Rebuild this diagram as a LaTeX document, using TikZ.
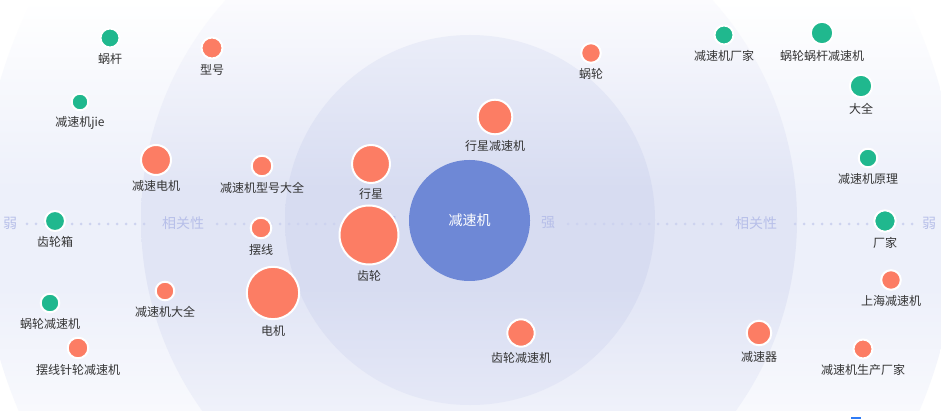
\documentclass[tikz,border=0pt]{standalone}
\usepackage{fontspec}
\setmainfont{Noto Sans CJK SC}
\definecolor{orangeB}{HTML}{FC7D64}
\definecolor{greenB}{HTML}{20B88E}
\definecolor{centerblue}{HTML}{6E88D6}
\definecolor{lbltext}{HTML}{333333}
\definecolor{axistext}{HTML}{B7BFE9}
\definecolor{dotc}{HTML}{CDD3EF}
\definecolor{ringA}{HTML}{EDF0FA}
\definecolor{ringAb}{HTML}{F8F9FD}
\definecolor{ringBt}{HTML}{FBFBFE}
\definecolor{ringB}{HTML}{E1E5F5}
\definecolor{ringBb}{HTML}{EFF1FA}
\definecolor{ringCt}{HTML}{EFF1FA}
\definecolor{ringC}{HTML}{D7DCF1}
\definecolor{ringCb}{HTML}{E6E9F7}
\definecolor{markblue}{HTML}{2F7CF6}
\pgfdeclareverticalshading{ringAshade}{100bp}{color(0bp)=(ringAb); color(25bp)=(ringAb); color(40bp)=(ringA); color(52bp)=(ringA); color(75bp)=(white); color(100bp)=(white)}
\pgfdeclareverticalshading{ringBshade}{100bp}{color(0bp)=(ringBb); color(25bp)=(ringBb); color(40bp)=(ringB); color(52bp)=(ringB); color(75bp)=(ringBt); color(100bp)=(ringBt)}
\pgfdeclareverticalshading{ringCshade}{100bp}{color(0bp)=(ringCb); color(25bp)=(ringCb); color(40bp)=(ringC); color(52bp)=(ringC); color(75bp)=(ringCt); color(100bp)=(ringCt)}
\tikzset{
  bubble/.style={circle, draw=white, line width=2pt, inner sep=0pt, outer sep=0pt},
  lbl/.style={font=\fontsize{12}{12}\selectfont, text=lbltext, inner sep=0pt, anchor=base},
  axislbl/.style={font=\fontsize{14}{14}\selectfont, text=axistext, inner sep=0pt},
  axisdot/.style={fill=dotc}
}
\newcommand\bub[6]{%
  \node[bubble, fill=#5, minimum size={2*#4-2}] (#1) at (#2,#3) {};
  \node[lbl] (#1l) at ([yshift=-16pt]#1.south) {#6};
}
\begin{document}
\begin{tikzpicture}[x=1pt,y=-1pt]
\useasboundingbox (0,0) rectangle (941,419);
\fill[white] (0,0) rectangle (941,419);
% background rings
\begin{scope}
  \clip (0,0) rectangle (941,410);
  \begin{scope}
    \clip (469,220) circle[radius=489pt];
    \shade[shading=ringAshade] (0,0) rectangle (941,410);
  \end{scope}
  \begin{scope}
    \clip (469,220) circle[radius=328pt];
    \shade[shading=ringBshade] (0,0) rectangle (941,410);
  \end{scope}
  \begin{scope}
    \clip (470,220) circle[radius=185pt];
    \shade[shading=ringCshade] (0,0) rectangle (941,410);
  \end{scope}
\end{scope}
% axis dots
\foreach \x in {27,36,...,144} \fill[axisdot] (\x,224) circle[radius=1.5pt];
\foreach \x in {217,226,...,370} \fill[axisdot] (\x,224) circle[radius=1.5pt];
\foreach \x in {568,577,...,722} \fill[axisdot] (\x,224) circle[radius=1.5pt];
\foreach \x in {795,804,...,913} \fill[axisdot] (\x,224) circle[radius=1.5pt];
% axis labels
\node[axislbl] (weakL) at (10,223) {弱};
\node[axislbl] (relL) at (183,223) {相关性};
\node[axislbl] (strongL) at (390,223) {强};
\node[axislbl] (strongR) at (548,223) {强};
\node[axislbl] (relR) at (756,223) {相关性};
\node[axislbl] (weakR) at (929,223) {弱};
% centre
\node[circle, fill=centerblue, minimum size=121pt, inner sep=0pt, text=white,
      font=\fontsize{14}{14}\selectfont] (center) at (469.5,220.5) {减速机};
% bubbles
\bub{wogan}{110}{38}{10.5}{greenB}{蜗杆}
\bub{xinghao}{212}{48}{11.5}{orangeB}{型号}
\bub{jie}{80}{102}{9.3}{greenB}{减速机jie}
\bub{jsdj}{156}{160}{16}{orangeB}{减速电机}
\bub{xhdq}{262}{166}{11.3}{orangeB}{减速机型号大全}
\bub{clx}{55}{221}{11}{greenB}{齿轮箱}
\bub{baixian}{261}{228}{11.3}{orangeB}{摆线}
\bub{dianji}{273}{293}{27.2}{orangeB}{电机}
\bub{jsdq}{165}{291}{10.3}{orangeB}{减速机大全}
\bub{wljs}{50}{303}{10.3}{greenB}{蜗轮减速机}
\bub{bxzl}{78}{348}{11.3}{orangeB}{摆线针轮减速机}
\bub{xxjs}{495}{117}{18.3}{orangeB}{行星减速机}
\bub{xingxing}{371}{164}{20}{orangeB}{行星}
\bub{chilun}{369}{235}{30.5}{orangeB}{齿轮}
\bub{wolun}{591}{53}{10.8}{orangeB}{蜗轮}
\bub{cljs}{521}{333}{14.7}{orangeB}{齿轮减速机}
\bub{jscj}{724}{35}{10.5}{greenB}{减速机厂家}
\bub{wlwg}{822}{33}{12.2}{greenB}{蜗轮蜗杆减速机}
\bub{daquan}{861}{86}{12.2}{greenB}{大全}
\bub{yuanli}{868}{158}{10.3}{greenB}{减速机原理}
\bub{changjia}{885}{221}{11.7}{greenB}{厂家}
\bub{shanghai}{891}{280}{10.8}{orangeB}{上海减速机}
\bub{jsq}{759}{333}{13.3}{orangeB}{减速器}
\bub{sccj}{863}{349}{10.5}{orangeB}{减速机生产厂家}
% small cut-off mark at the bottom edge
\fill[markblue] (851,417) rectangle (861,419);
\end{tikzpicture}
\end{document}
